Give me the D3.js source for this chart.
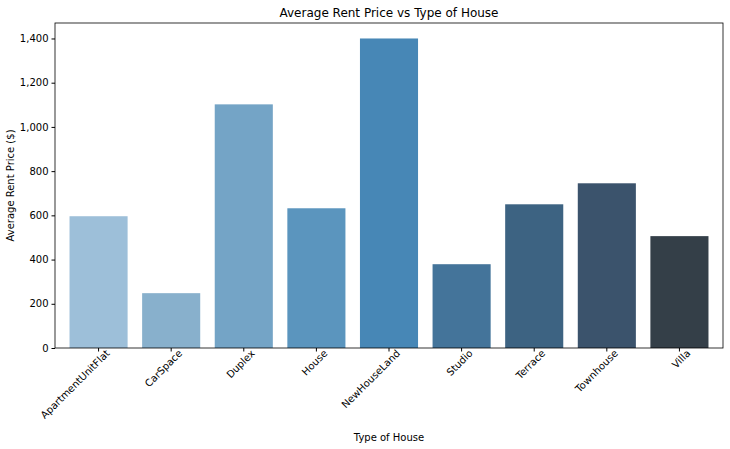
<!DOCTYPE html>
<html><head><meta charset="utf-8">
<script src="https://cdn.jsdelivr.net/npm/d3@7"></script>
<style>body{margin:0;background:#fff;font-family:"DejaVu Sans",sans-serif}</style>
</head><body><svg id="c" width="730" height="449"></svg>
<script>
const categories = ["ApartmentUnitFlat","CarSpace","Duplex","House","NewHouseLand","Studio","Terrace","Townhouse","Villa"];
const rents = [596, 248, 1102, 632, 1400, 379, 650, 745, 506];
const colors = ["#9dbfd9","#88b0cc","#74a4c6","#5b95be","#4787b6","#44749a","#3d6382","#3b536c","#343f48"];
const yTicks = [0,200,400,600,800,1000,1200,1400];

const m = {left:55, right:7, top:23, bottom:101};
const W = 730, H = 449;
const svg = d3.select("#c");
const x = d3.scaleBand().domain(categories).range([m.left, W-m.right]).padding(0.2);
const y = d3.scaleLinear().domain([0,1470]).range([H-m.bottom, m.top]);

svg.selectAll("rect.bar").data(categories).enter().append("rect")
  .attr("x", d => x(d)).attr("width", x.bandwidth())
  .attr("y", (d,i) => y(rents[i])).attr("height", (d,i) => y(0)-y(rents[i]))
  .attr("fill", (d,i) => colors[i]);

const xa = svg.append("g").attr("transform",`translate(0,${H-m.bottom})`).call(d3.axisBottom(x).tickSizeOuter(0).tickSize(3.5));
xa.selectAll("text").attr("font-size",10).attr("fill","#000").attr("font-family","DejaVu Sans")
  .attr("text-anchor","end").attr("dx","0.4em").attr("dy","0.6em").attr("transform","rotate(-45)");
const ya = svg.append("g").attr("transform",`translate(${m.left},0)`).call(d3.axisLeft(y).tickValues(yTicks).tickSize(3.5).tickSizeOuter(0));
ya.selectAll("text").attr("font-size",10).attr("fill","#000").attr("font-family","DejaVu Sans");
svg.selectAll(".domain").remove();
svg.append("rect").attr("x",m.left).attr("y",m.top).attr("width",W-m.left-m.right).attr("height",H-m.top-m.bottom)
  .attr("fill","none").attr("stroke","#000").attr("stroke-width",0.8);

svg.append("text").attr("x",(m.left+W-m.right)/2).attr("y",17).attr("text-anchor","middle").attr("font-size",12).text("Average Rent Price vs Type of House");
svg.append("text").attr("x",(m.left+W-m.right)/2).attr("y",441).attr("text-anchor","middle").attr("font-size",10).text("Type of House");
svg.append("text").attr("transform",`translate(14,${(m.top+H-m.bottom)/2}) rotate(-90)`).attr("text-anchor","middle").attr("font-size",10).text("Average Rent Price ($)");
</script></body></html>
